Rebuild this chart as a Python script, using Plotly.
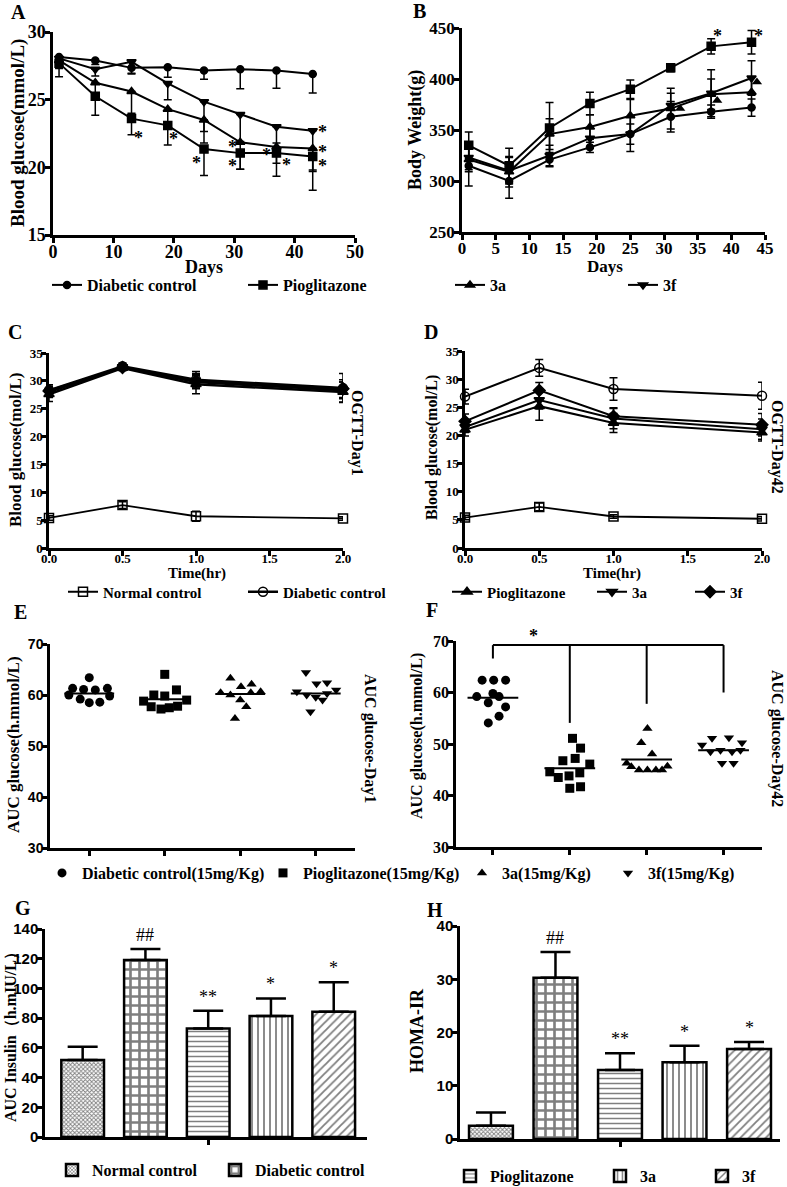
import plotly.graph_objects as go

W, H = 787, 1187
SERIF = "Liberation Serif"
SANS = "Liberation Sans"

# ---------- A: blood glucose vs days ----------
days = [1, 7, 13, 19, 25, 31, 37, 43]
bg_dc = [28.15, 27.9, 27.35, 27.4, 27.15, 27.25, 27.15, 26.9]
bg_dc_err = [0.3, 0.3, 0.4, 0.75, 0.65, 1.45, 1.3, 1.4]
bg_pio = [27.7, 25.25, 23.6, 23.1, 21.35, 21.05, 21.05, 20.8]
bg_pio_err = [1.0, 1.4, 1.2, 1.45, 1.95, 1.2, 1.7, 2.5]
bg_3a = [27.9, 26.25, 25.6, 24.3, 23.5, 21.85, 21.5, 21.4]
bg_3a_err = [0.6, 0.8, 1.6, 1.4, 1.7, 2.0, 1.2, 1.6]
bg_3f = [28.05, 27.25, 27.8, 26.2, 24.85, 23.9, 23.0, 22.7]
bg_3f_err = [0.4, 0.5, 0.9, 1.2, 2.2, 2.0, 1.2, 3.0]
a_star_x = [14.1, 20.0, 23.8, 29.8, 29.8, 35.4, 38.6, 44.7, 44.7, 44.7]
a_star_y = [22.5, 22.4, 20.6, 21.8, 20.4, 21.2, 20.5, 22.9, 21.4, 20.4]

# ---------- B: body weight vs days ----------
bw_dc = [315, 300, 321, 333, 346, 363, 368, 372]
bw_dc_err = [20, 17, 7, 5, 10, 15, 6.5, 8.5]
bw_pio = [335, 315, 352, 376, 390, 411, 432, 436]
bw_pio_err = [13, 17, 25, 11, 9, 4, 7.5, 11.5]
bw_3a = [321, 309, 346, 353, 364, 371, 385, 387]
bw_3a_err = [12, 15, 15, 12, 16, 20, 15, 15]
bw_3f = [323, 310, 325, 342, 346, 374, 386, 401]
bw_3f_err = [12, 13, 10, 10, 17, 12, 23, 17]
b_tri_x = [32.4, 37.9, 43.8]
b_tri_y = [371, 379, 397]
b_star_x = [37.9, 44.1]
b_star_y = [446, 446]

# ---------- C / D: OGTT ----------
hours = [0, 0.5, 1, 2]
c_nc = [5.4, 7.7, 5.7, 5.3]
c_nc_err = [0.4, 0.6, 0.9, 0.3]
c_dc = [28.3, 32.6, 30.2, 28.7]
c_dc_err = [1.0, 0.6, 1.5, 2.6]
c_pio = [27.6, 32.3, 29.4, 28.0]
c_pio_err = [1.3, 0.5, 1.7, 1.8]
c_3a = [28.0, 32.5, 29.8, 28.3]
c_3a_err = [1.0, 0.5, 1.2, 1.5]
c_3f = [28.2, 32.4, 30.0, 28.6]
c_3f_err = [1.1, 0.5, 1.3, 1.6]

d_nc = [5.4, 7.3, 5.6, 5.2]
d_nc_err = [0.4, 0.7, 0.3, 0.4]
d_dc = [26.9, 32.0, 28.25, 27.05]
d_dc_err = [1.3, 1.5, 2.0, 2.4]
d_pio = [21.0, 25.2, 22.2, 20.5]
d_pio_err = [1.1, 2.5, 1.7, 1.5]
d_3a = [21.5, 26.3, 23.0, 21.1]
d_3a_err = [1.0, 1.6, 1.8, 1.8]
d_3f = [22.5, 28.0, 23.4, 21.9]
d_3f_err = [1.3, 1.4, 1.5, 2.0]

# ---------- E / F: AUC glucose scatter ----------
e_dc = [63.4, 61.3, 61.1, 61.0, 61.3, 60.0, 59.8, 59.2, 58.5, 58.6]
e_dc_dx = [0.0, -0.22, -0.075, 0.08, 0.24, -0.27, 0.27, -0.12, 0.0, 0.14]
e_pio = [64.05, 61.0, 60.0, 59.8, 59.0, 58.8, 57.7, 57.25, 57.5, 57.8]
e_pio_dx = [0.0, 0.155, -0.145, 0.0, 0.29, -0.28, -0.18, -0.05, 0.06, 0.17]
e_3a = [63.3, 61.6, 62.1, 60.45, 60.0, 60.45, 60.65, 59.0, 57.7, 55.4]
e_3a_dx = [-0.13, 0.01, 0.15, -0.26, -0.13, 0.14, 0.27, 0.0, 0.08, -0.07]
e_3f = [64.4, 62.2, 62.4, 60.65, 60.0, 61.0, 59.55, 59.0, 56.7, 60.3]
e_3f_dx = [-0.13, 0.01, 0.15, -0.25, -0.12, 0.27, 0.0, 0.09, -0.07, 0.15]
e_means = [60.3, 59.15, 60.2, 60.3]

f_dc = [62.4, 62.4, 62.4, 59.2, 59.8, 59.2, 58.0, 57.2, 55.4, 54.1]
f_dc_dx = [-0.14, 0.01, 0.165, -0.21, 0.0, 0.08, -0.06, 0.165, 0.08, -0.06]
f_pio = [51.1, 49.2, 47.2, 46.75, 46.1, 44.6, 43.5, 43.8, 44.4, 41.4, 41.7]
f_pio_dx = [0.035, 0.14, 0.07, -0.09, 0.26, -0.26, -0.15, -0.01, 0.13, 0.0, 0.14]
f_3a = [53.0, 50.25, 48.06, 46.25, 45.6, 44.95, 44.95, 44.95, 44.95, 45.7]
f_3a_dx = [0.01, -0.07, 0.07, -0.26, -0.2, -0.1, 0.01, 0.12, 0.2, 0.27]
f_3f = [49.8, 51.1, 51.2, 50.25, 48.5, 48.8, 48.5, 48.8, 46.25, 46.25]
f_3f_dx = [-0.28, -0.15, 0.07, 0.24, -0.17, -0.04, 0.11, 0.22, -0.02, 0.13]
f_means = [59.0, 45.3, 47.0, 48.8]
f_bracket_top = 69.2
f_bracket_drop = [66.6, 54.1, 57.8, 60.0]

# ---------- G / H: bars ----------
bar_groups = ["Normal control", "Diabetic control", "Pioglitazone", "3a", "3f"]
insulin_auc = [51.8, 119.1, 73.1, 81.4, 84.3]
insulin_err = [9.0, 7.4, 11.9, 11.9, 19.8]
insulin_marks = ["", "##", "**", "*", "*"]
homa_ir = [2.5, 30.3, 12.96, 14.4, 16.9]
homa_err = [2.46, 4.8, 3.14, 3.1, 1.3]
homa_marks = ["", "##", "**", "*", "*"]


def px(x):
    return x / W


def py(y):
    return 1 - y / H


fig = go.Figure()

legend_layout = {}


def new_legend(text_x, y, size=16):
    # text_x is where the entry text should start; plotly puts it 40px after legend x
    n = len(legend_layout) + 1
    name = "legend" if n == 1 else f"legend{n}"
    legend_layout[name] = dict(
        x=px(text_x - 40), y=py(y), xanchor="left", yanchor="middle", orientation="h",
        bgcolor="rgba(0,0,0,0)", borderwidth=0, itemwidth=30,
        font=dict(family=SERIF, size=size, color="black", weight="bold"),
    )
    return name


def err(arr, down_only=False):
    e = dict(type="data", color="black", thickness=1.5, width=4)
    if down_only:
        e.update(symmetric=False, array=[0] * len(arr), arrayminus=arr)
    else:
        e.update(array=arr)
    return e


def line_trace(ax, x, y, e, name, symbol, size, legend=None, down_only=False, lw=2):
    fig.add_trace(go.Scatter(
        x=x, y=y, mode="lines+markers", name=name,
        line=dict(color="black", width=lw),
        marker=dict(symbol=symbol, size=size, color="black",
                    line=dict(color="black", width=1.5)),
        error_y=err(e, down_only), cliponaxis=False,
        xaxis=f"x{ax}", yaxis=f"y{ax}",
        showlegend=legend is not None, legend=legend or "legend",
    ))


# A
line_trace(1, days, bg_dc, bg_dc_err, "Diabetic control", "circle", 7, new_legend(87, 285), True)
line_trace(1, days, bg_pio, bg_pio_err, "Pioglitazone", "square", 8, new_legend(283, 285), True)
line_trace(1, days, bg_3a, bg_3a_err, "3a", "triangle-up", 8, None, True)
line_trace(1, days, bg_3f, bg_3f_err, "3f", "triangle-down", 8, None, True)

# B
line_trace(2, days, bw_dc, bw_dc_err, "Diabetic control", "circle", 7)
line_trace(2, days, bw_pio, bw_pio_err, "Pioglitazone", "square", 8)
line_trace(2, days, bw_3a, bw_3a_err, "3a", "triangle-up", 8, new_legend(490, 285))
line_trace(2, days, bw_3f, bw_3f_err, "3f", "triangle-down", 8, new_legend(663, 285))
fig.add_trace(go.Scatter(x=b_tri_x, y=b_tri_y, mode="markers", xaxis="x2", yaxis="y2",
                         marker=dict(symbol="triangle-up", size=9, color="black"),
                         showlegend=False, cliponaxis=False))

# C
line_trace(3, hours, c_nc, c_nc_err, "Normal control", "square-open", 9, new_legend(103, 592, 15), lw=1.8)
line_trace(3, hours, c_dc, c_dc_err, "Diabetic control", "circle-open", 9, new_legend(283, 592, 15), lw=2.5)
line_trace(3, hours, c_pio, c_pio_err, "Pioglitazone", "triangle-up", 9, lw=2.5)
line_trace(3, hours, c_3a, c_3a_err, "3a", "triangle-down", 9, lw=2.5)
line_trace(3, hours, c_3f, c_3f_err, "3f", "diamond", 9, lw=2.5)

# D
line_trace(4, hours, d_nc, d_nc_err, "Normal control", "square-open", 9, lw=1.8)
line_trace(4, hours, d_dc, d_dc_err, "Diabetic control", "circle-open", 9)
line_trace(4, hours, d_pio, d_pio_err, "Pioglitazone", "triangle-up", 9, new_legend(487, 592, 15))
line_trace(4, hours, d_3a, d_3a_err, "3a", "triangle-down", 9, new_legend(632, 592, 15))
line_trace(4, hours, d_3f, d_3f_err, "3f", "diamond", 9, new_legend(730, 592, 15))

# E / F scatter
e_sets = [(e_dc, e_dc_dx, "circle"), (e_pio, e_pio_dx, "square"),
          (e_3a, e_3a_dx, "triangle-up"), (e_3f, e_3f_dx, "triangle-down")]
f_sets = [(f_dc, f_dc_dx, "circle"), (f_pio, f_pio_dx, "square"),
          (f_3a, f_3a_dx, "triangle-up"), (f_3f, f_3f_dx, "triangle-down")]
ef_names = ["Diabetic control(15mg/Kg)", "Pioglitazone(15mg/Kg)", "3a(15mg/Kg)", "3f(15mg/Kg)"]
ef_legend_x = [82, 303, 502, 648]
for i, (vals, dx, sym) in enumerate(e_sets):
    fig.add_trace(go.Scatter(
        x=[i + d for d in dx], y=vals, mode="markers", name=ef_names[i],
        marker=dict(symbol=sym, size=9, color="black"), xaxis="x5", yaxis="y5",
        legend=new_legend(ef_legend_x[i], 873, 16), cliponaxis=False))
    fig.add_trace(go.Scatter(
        x=[i - 0.33, i + 0.33], y=[e_means[i]] * 2, mode="lines",
        line=dict(color="black", width=2), xaxis="x5", yaxis="y5", showlegend=False))
for i, (vals, dx, sym) in enumerate(f_sets):
    fig.add_trace(go.Scatter(
        x=[i + d for d in dx], y=vals, mode="markers", name=ef_names[i],
        marker=dict(symbol=sym, size=9, color="black"), xaxis="x6", yaxis="y6",
        showlegend=False, cliponaxis=False))
    fig.add_trace(go.Scatter(
        x=[i - 0.33, i + 0.33], y=[f_means[i]] * 2, mode="lines",
        line=dict(color="black", width=2), xaxis="x6", yaxis="y6", showlegend=False))

bx, by = [0, 3, None], [f_bracket_top, f_bracket_top, None]
for i, yd in enumerate(f_bracket_drop):
    bx += [i, i, None]
    by += [yd, f_bracket_top, None]
fig.add_trace(go.Scatter(x=bx, y=by, mode="lines", line=dict(color="black", width=2),
                         xaxis="x6", yaxis="y6", showlegend=False, cliponaxis=False))

# G / H bars
patterns = [
    dict(shape="x", size=3, solidity=0.5),
    dict(shape="+", size=9, solidity=0.5),
    dict(shape="-", size=5, solidity=0.3),
    dict(shape="|", size=6, solidity=0.3),
    dict(shape="/", size=6, solidity=0.3),
]
g_legend = [(92, 1170), (255, 1170), None, None, None]
h_legend = [None, None, (490, 1176), (640, 1176), (742, 1176)]
for ax, vals, errs, legpos in [(7, insulin_auc, insulin_err, g_legend), (8, homa_ir, homa_err, h_legend)]:
    for i, name in enumerate(bar_groups):
        lg = legpos[i]
        fig.add_trace(go.Bar(
            x=[i], y=[vals[i]], width=0.68, name=name,
            marker=dict(color="white", line=dict(color="black", width=2.5),
                        pattern=dict(fgcolor="black", bgcolor="white", **patterns[i])),
            error_y=dict(type="data", symmetric=False, array=[errs[i]], arrayminus=[0],
                         color="black", thickness=2.5, width=15),
            xaxis=f"x{ax}", yaxis=f"y{ax}",
            showlegend=lg is not None,
            legend=new_legend(lg[0], lg[1], 16) if lg else "legend",
        ))

# ---------- axes ----------
boxes = {
    1: (53, 355, 32, 235),
    2: (462, 765, 28, 232),
    3: (49, 343, 353, 548),
    4: (465, 762, 351, 548),
    5: (50, 355, 644, 848),
    6: (456, 762, 641, 847),
    7: (45, 367, 929, 1137),
    8: (460, 780, 926, 1139),
}
axes_cfg = {
    1: dict(xr=[0, 50], xt=[0, 10, 20, 30, 40, 50], yr=[15, 30], yt=[15, 20, 25, 30], fam=SERIF, fs=18, xlab=True, xso=-6),
    2: dict(xr=[0, 45], xt=list(range(0, 46, 5)), yr=[250, 450], yt=[250, 300, 350, 400, 450], fam=SERIF, fs=17, xlab=True, xso=-6),
    3: dict(xr=[0, 2], xt=[0, 0.5, 1, 1.5, 2], yr=[0, 35], yt=list(range(0, 36, 5)), fam=SERIF, fs=13, xlab=True, xso=-8),
    4: dict(xr=[0, 2], xt=[0, 0.5, 1, 1.5, 2], yr=[0, 35], yt=list(range(0, 36, 5)), fam=SERIF, fs=13, xlab=True, xso=-8),
    5: dict(xr=[-0.52, 3.52], xt=[0, 1, 2, 3], yr=[30, 70], yt=[30, 40, 50, 60, 70], fam=SANS, fs=14, xlab=False, xso=0),
    6: dict(xr=[-0.48, 3.5], xt=[0, 1, 2, 3], yr=[30, 70], yt=[30, 40, 50, 60, 70], fam=SERIF, fs=16, xlab=False, xso=0),
    7: dict(xr=[-0.6, 4.53], xt=[2], yr=[0, 140], yt=list(range(0, 141, 20)), fam=SANS, fs=15, xlab=False, xso=0),
    8: dict(xr=[-0.48, 4.48], xt=[2], yr=[0, 40], yt=[0, 10, 20, 30, 40], fam=SANS, fs=15, xlab=False, xso=0),
}
layout_axes = {}
for n, (x0, x1, y0, y1) in boxes.items():
    c = axes_cfg[n]
    common = dict(showline=True, linecolor="black", linewidth=2.5, ticks="outside",
                  ticklen=5, tickwidth=2.5, tickcolor="black", showgrid=False,
                  zeroline=False, fixedrange=True, automargin=False,
                  tickfont=dict(family=c["fam"], size=c["fs"], color="black", weight="bold"))
    xfmt = ".1f" if n in (3, 4) else None
    layout_axes[f"xaxis{n}"] = dict(common, domain=[px(x0), px(x1)], range=c["xr"],
                                    tickvals=c["xt"], showticklabels=c["xlab"],
                                    ticklabelstandoff=c["xso"],
                                    tickformat=xfmt, anchor=f"y{n}")
    layout_axes[f"yaxis{n}"] = dict(common, domain=[py(y1), py(y0)], range=c["yr"],
                                    tickvals=c["yt"], ticklabelstandoff=-4, anchor=f"x{n}")
fig.update_layout(**layout_axes)

# ---------- text ----------
ann = []


def label(text, x, y, size, angle=0, family=SERIF, bold=True):
    ann.append(dict(text=text, x=px(x), y=py(y), xref="paper", yref="paper",
                    showarrow=False, textangle=angle, xanchor="center", yanchor="middle",
                    font=dict(family=family, size=size, color="black",
                              weight="bold" if bold else "normal")))


for letter, x, y in [("A", 18, 12), ("B", 419, 11), ("C", 15, 332), ("D", 431, 332),
                     ("E", 20, 612), ("F", 432, 610), ("G", 23, 908), ("H", 435, 910)]:
    label(letter, x, y, 20)

label("Blood glucose(mmol/L)", 18, 133, 19, -90)
label("Days", 204, 267, 18)
label("Body Weight(g)", 415, 130, 18, -90)
label("Days", 605, 267, 17)
label("Blood glucose(mol/L)", 15, 450, 17, -90)
label("Time(hr)", 197, 574, 15)
label("OGTT-Day1", 357, 433, 16, 90)
label("Blood glucose(mol/L)", 432, 448, 16, -90)
label("Time(hr)", 612, 574, 15)
label("OGTT-Day42", 777, 447, 16, 90)
label("AUC glucose(h.mmol/L)", 13, 745, 17, -90)
label("AUC glucose-Day1", 370, 738, 16, 90)
label("AUC glucose(h.mmol/L)", 417, 736, 16, -90)
label("AUC glucose-Day42", 777, 738, 16, 90)
label("AUC Insulin（h.mIU/L）", 11, 1033, 16, -90)
label("HOMA-IR", 417, 1031, 18, -90)
# significance star above the F bracket (sits above the axis range, so paper coords)
label("*", 533, 636, 18)

star_font = dict(family=SERIF, size=18, color="black", weight="bold")
for xs, ys, ax in [(a_star_x, a_star_y, 1), (b_star_x, b_star_y, 2)]:
    for x, y in zip(xs, ys):
        ann.append(dict(text="*", x=x, y=y, xref=f"x{ax}", yref=f"y{ax}", showarrow=False,
                        yshift=-4, font=star_font))
for ax, vals, errs, marks in [(7, insulin_auc, insulin_err, insulin_marks), (8, homa_ir, homa_err, homa_marks)]:
    for i, m in enumerate(marks):
        if m:
            ann.append(dict(text=m, x=i, y=vals[i] + errs[i], xref=f"x{ax}", yref=f"y{ax}",
                            showarrow=False, yanchor="bottom", yshift=2,
                            font=dict(family=SERIF, size=18, color="black")))

fig.update_layout(
    width=W, height=H, margin=dict(l=0, r=0, t=0, b=0, autoexpand=False),
    paper_bgcolor="white", plot_bgcolor="white",
    annotations=ann, barmode="overlay",
    **legend_layout,
)

fig.write_html("out.html", config={"displayModeBar": False},
               post_script="document.body.style.margin='0';")
